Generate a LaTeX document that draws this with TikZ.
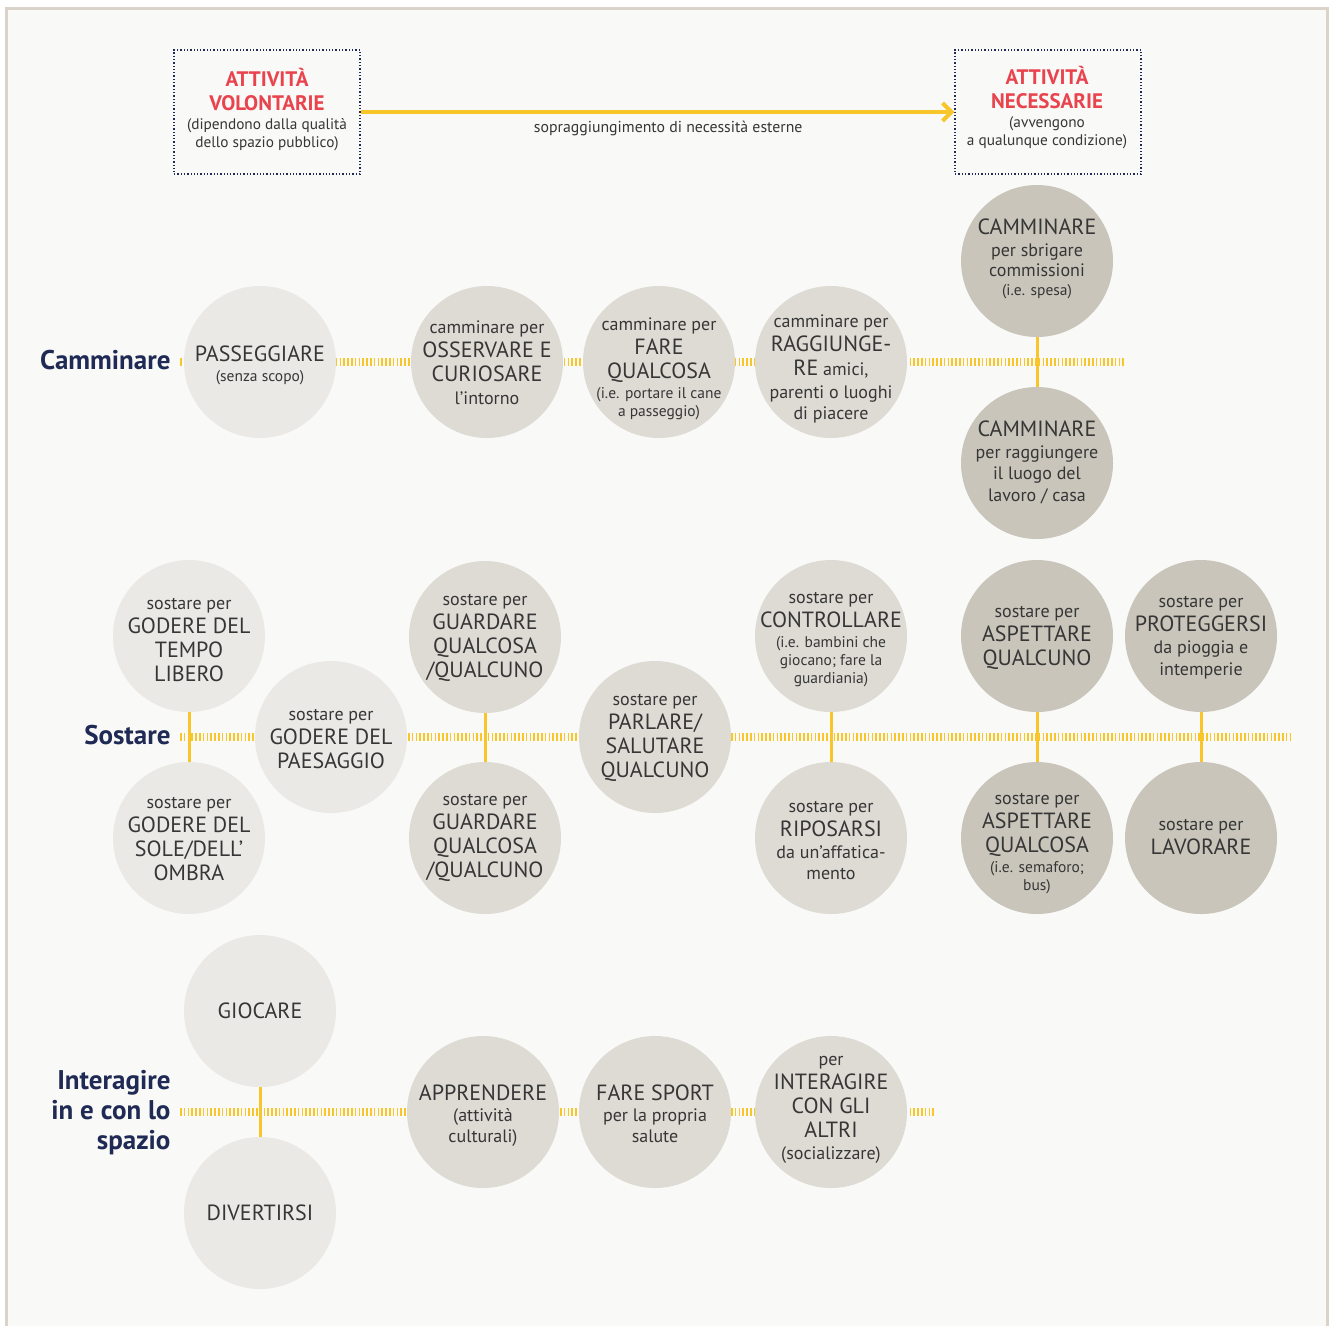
\documentclass[tikz,border=0pt]{standalone}
\usepackage{fontspec}
\setmainfont{PT Sans}
\usetikzlibrary{arrows.meta}
\definecolor{paper}{HTML}{F9F9F7}
\definecolor{frame}{HTML}{D9D3CA}
\definecolor{ink}{HTML}{363636}
\definecolor{navy}{HTML}{1F2A55}
\definecolor{alert}{HTML}{E9444E}
\definecolor{gold}{HTML}{F8C62A}
\definecolor{toneA}{HTML}{EAE9E5}
\definecolor{toneB}{HTML}{DEDBD5}
\definecolor{toneC}{HTML}{C9C5BB}
\newcommand\fbig{\fontsize{22}{24}\selectfont}
\newcommand\fsml{\fontsize{15.5}{24}\selectfont}
\newcommand\fred{\color{alert}\fontsize{21}{23}\selectfont\bfseries}
\tikzset{
  bubble/.style={circle,minimum size=152pt,inner sep=0pt},
  lightb/.style={bubble,fill=toneA},
  midb/.style={bubble,fill=toneB},
  darkb/.style={bubble,fill=toneC},
  bubtext/.style={align=center,text=ink,inner sep=0pt,font=\fontsize{18}{24}\selectfont},
  rowline/.style={gold,line width=8pt,dash pattern=on 1.6pt off 2.2pt},
  link/.style={gold,line width=3pt},
  rowlabel/.style={anchor=east,align=right,text=navy,font=\fontsize{27}{30}\selectfont\bfseries},
  kindbox/.style={draw=navy,dotted,line width=1.3pt,minimum width=186pt,minimum height=124pt,inner sep=0pt},
  kindtext/.style={align=center,text=ink,font=\fontsize{15.3}{18}\selectfont}
}
\begin{document}
\begin{tikzpicture}[x=1pt,y=-1pt]
% sheet and frame
\fill[white] (0,0) rectangle (1329,1326);
\useasboundingbox (0,0) rectangle (1329,1326);
\fill[paper] (6,8) rectangle (1327,1326);
\draw[frame,line width=3pt] (6,1326) -- (6,8) -- (1327,8) -- (1327,1326);

% the two kinds of activity
\node[kindbox] (vol) at (267,112) {};
\node[kindtext] (volt) at (267,110)
  {{\fred ATTIVITÀ}\\[6pt]{\fred VOLONTARIE}\\[1pt](dipendono dalla qualità\\dello spazio pubblico)};
\node[kindbox] (nec) at (1048,112) {};
\node[kindtext] (nect) at (1047,108)
  {{\fred ATTIVITÀ}\\[6pt]{\fred NECESSARIE}\\[1pt](avvengono\\a qualunque condizione)};
\draw[gold,line width=4pt,-{Straight Barb[length=9pt,width=18pt,line width=4pt]}] (vol.east) -- (nec.west)
  node[pos=0.518,below=4pt,text=ink,font=\fontsize{15.8}{18}\selectfont] (ext) {sopraggiungimento di necessità esterne};

% row guides
\coordinate (cmS) at (180,362); \coordinate (cmE) at (1125,362);
\coordinate (soS) at (180,737); \coordinate (soE) at (1293,737);
\coordinate (inS) at (180,1112); \coordinate (inE) at (935,1112);
\draw[rowline] (cmS) -- (cmE);
\draw[rowline] (soS) -- (soE);
\draw[rowline] (inS) -- (inE);

% row labels
\node[rowlabel] (lcm) at (174,360) {Camminare};
\node[rowlabel] (lso) at (174,735) {Sostare};
\node[rowlabel] (lin) at (174,1113) {Interagire\\in e con lo\\spazio};

% Camminare
\node[lightb,label={[bubtext,yshift=-3pt]center:{\fbig PASSEGGIARE}\\[-4pt]{\fsml (senza scopo)}}] (pas) at (260,362) {};
\node[midb,label={[bubtext,yshift=-1pt]center:camminare per\\{\fbig OSSERVARE E}\\{\fbig CURIOSARE}\\[-1pt]l’intorno}] (oss) at (487,362) {};
\node[midb,label={[bubtext,yshift=-7pt]center:camminare per\\{\fbig FARE}\\{\fbig QUALCOSA}\\[-4pt]{\fsml (i.e. portare il cane}\\[-6pt]{\fsml a passeggio)}}] (far) at (659,362) {};
\node[midb,label={[bubtext,yshift=-7pt]center:camminare per\\{\fbig RAGGIUNGE-}\\{\fbig RE} amici,\\[-1pt]parenti o luoghi\\[-3pt]di piacere}] (rag) at (831,362) {};
\node[darkb,label={[bubtext,yshift=2pt]center:{\fbig CAMMINARE}\\[-2pt]per sbrigare\\[-4pt]commissioni\\[-5pt]{\fsml (i.e. spesa)}}] (com) at (1037,261) {};
\node[darkb,label={[bubtext,yshift=1pt]center:{\fbig CAMMINARE}\\[-2pt]per raggiungere\\[-3pt]il luogo del\\[-2pt]lavoro / casa}] (lav) at (1037,463) {};
\draw[link] (com.south) -- (lav.north);

% Sostare
\node[lightb,label={[bubtext,yshift=-4pt]center:sostare per\\{\fbig GODERE DEL}\\{\fbig TEMPO}\\{\fbig LIBERO}}] (tem) at (189,636) {};
\node[lightb,label={[bubtext,yshift=-1pt]center:sostare per\\{\fbig GODERE DEL}\\{\fbig SOLE/DELL’}\\{\fbig OMBRA}}] (sol) at (189,838) {};
\node[lightb,label={[bubtext,yshift=-2pt]center:sostare per\\{\fbig GODERE DEL}\\{\fbig PAESAGGIO}}] (pae) at (331,737) {};
\node[midb,label={[bubtext,yshift=-1pt]center:sostare per\\{\fbig GUARDARE}\\{\fbig QUALCOSA}\\{\fbig /QUALCUNO}}] (gu1) at (485,637) {};
\node[midb,label={[bubtext]center:sostare per\\{\fbig GUARDARE}\\{\fbig QUALCOSA}\\{\fbig /QUALCUNO}}] (gu2) at (485,838) {};
\node[midb,label={[bubtext,yshift=-1pt]center:sostare per\\{\fbig PARLARE/}\\{\fbig SALUTARE}\\{\fbig QUALCUNO}}] (par) at (655,737) {};
\node[midb,label={[bubtext,yshift=-4pt]center:sostare per\\{\fbig CONTROLLARE}\\[-4pt]{\fsml (i.e. bambini che}\\[-6pt]{\fsml giocano; fare la}\\[-6pt]{\fsml guardiania)}}] (con) at (831,636) {};
\node[midb,label={[bubtext,yshift=-2pt]center:sostare per\\{\fbig RIPOSARSI}\\[-2pt]da un’affatica-\\[-3pt]mento}] (rip) at (831,838) {};
\node[darkb,label={[bubtext,yshift=-2pt]center:sostare per\\{\fbig ASPETTARE}\\{\fbig QUALCUNO}}] (asp) at (1037,636) {};
\node[darkb,label={[bubtext,yshift=-6pt]center:sostare per\\{\fbig ASPETTARE}\\{\fbig QUALCOSA}\\[-4pt]{\fsml (i.e. semaforo;}\\[-6pt]{\fsml bus)}}] (asq) at (1037,838) {};
\node[darkb,label={[bubtext,yshift=-1.5pt]center:sostare per\\{\fbig PROTEGGERSI}\\[-2pt]da pioggia e\\[-2pt]intemperie}] (pro) at (1201,636) {};
\node[darkb,label={[bubtext,yshift=0.5pt]center:sostare per\\{\fbig LAVORARE}}] (lvr) at (1201,838) {};
\draw[link] (tem.south) -- (sol.north);
\draw[link] (gu1.south) -- (gu2.north);
\draw[link] (con.south) -- (rip.north);
\draw[link] (asp.south) -- (asq.north);
\draw[link] (pro.south) -- (lvr.north);

% Interagire in e con lo spazio
\node[lightb,label={[bubtext]center:{\fbig GIOCARE}}] (gio) at (260,1011) {};
\node[lightb,label={[bubtext]center:{\fbig DIVERTIRSI}}] (div) at (260,1213) {};
\node[midb,label={[bubtext,yshift=-4pt]center:{\fbig APPRENDERE}\\[-3pt](attività\\[-3pt]culturali)}] (app) at (483,1112) {};
\node[midb,label={[bubtext,yshift=-2pt]center:{\fbig FARE SPORT}\\[-3pt]per la propria\\[-3pt]salute}] (spo) at (655,1112) {};
\node[midb,label={[bubtext,yshift=2pt]center:per\\{\fbig INTERAGIRE}\\{\fbig CON GLI}\\{\fbig ALTRI}\\[-2pt](socializzare)}] (soc) at (831,1112) {};
\draw[link] (gio.south) -- (div.north);
\end{tikzpicture}
\end{document}
